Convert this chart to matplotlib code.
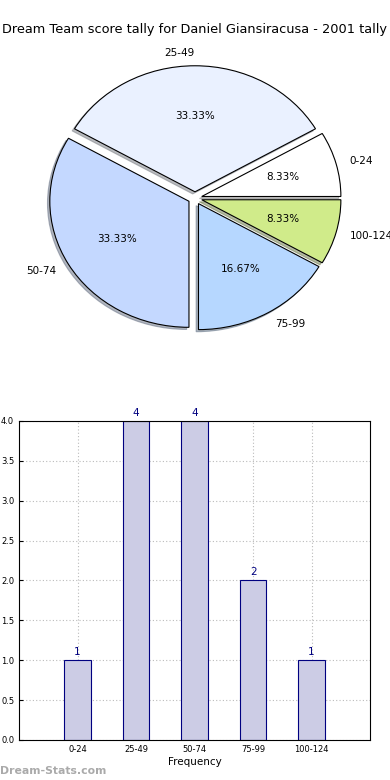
import matplotlib
matplotlib.use("Agg")
import matplotlib.pyplot as plt
import numpy as np


# Score bands and how many games fell in each
bands = ["0-24", "25-49", "50-74", "75-99", "100-124"]
counts = [1, 4, 4, 2, 1]

slice_colors = ["#FFFFFF", "#EAF1FF", "#C4D8FF", "#B6D7FF", "#D0EB8A"]

fig = plt.figure(figsize=(3.9, 7.8), dpi=100)

# -------------------------------------------------
# Pie chart (top)
# -------------------------------------------------
ax_pie = fig.add_axes([0.054, 0.544, 0.892, 0.404])
ax_pie.pie(
    counts,
    labels=bands,
    colors=slice_colors,
    explode=[0.05] * len(counts),
    autopct="%1.2f%%",
    shadow={"ox": -0.012, "oy": -0.012, "shade": 0.5},
    startangle=0,
    labeldistance=1.1,
    pctdistance=0.6,
    wedgeprops={"edgecolor": "black", "linewidth": 0.8},
    textprops={"fontsize": 7.5},
)
ax_pie.set_aspect("auto")
ax_pie.set_xlim(-1.25, 1.25)
ax_pie.set_ylim(-1.25, 1.25)
ax_pie.axis("off")

fig.text(
    0.5, 0.962,
    "Dream Team score tally for Daniel Giansiracusa - 2001 tally",
    ha="center", va="center", fontsize=9.3
)

# -------------------------------------------------
# Bar chart (bottom)
# -------------------------------------------------
ax_bar = fig.add_axes([0.049, 0.0513, 0.9, 0.409])
x = np.arange(len(bands))
bars = ax_bar.bar(
    x, counts, width=0.45,
    color="#CCCCE5", edgecolor="#000080", linewidth=0.8, zorder=2
)
for rect, c in zip(bars, counts):
    ax_bar.text(
        rect.get_x() + rect.get_width() / 2, c + 0.04, str(c),
        ha="center", va="bottom", fontsize=7.5, color="#000080"
    )

ax_bar.set_xlim(-1, 5)
ax_bar.set_ylim(0, 4)
ax_bar.set_xticks(x)
ax_bar.set_xticklabels(bands)
ax_bar.set_yticks(np.arange(0, 4.01, 0.5))
ax_bar.tick_params(labelsize=6, length=3, direction="in")
ax_bar.grid(True, linestyle=(0, (1, 2)), color="#BBBBBB", linewidth=0.8, zorder=0)
ax_bar.set_axisbelow(True)
ax_bar.set_xlabel("Frequency", fontsize=7.5, labelpad=2)

fig.text(0.0, 0.012, "Dream-Stats.com", fontsize=7.8, color="#AAAAAA",
         fontweight="semibold", ha="left", va="center")

fig.savefig("out.png", dpi=100)
